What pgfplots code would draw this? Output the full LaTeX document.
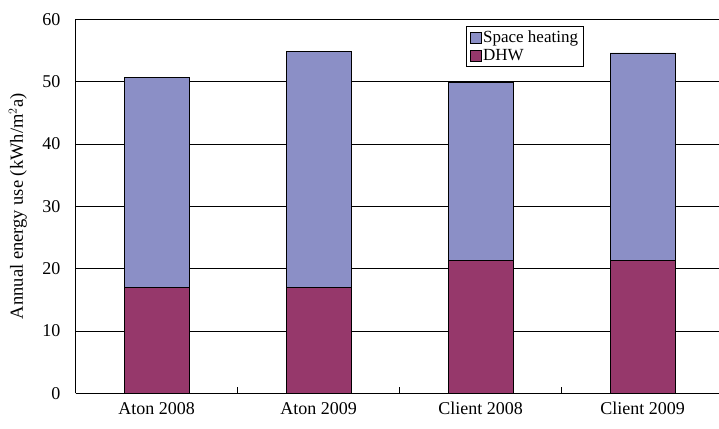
\documentclass[border=0pt]{standalone}
\usepackage{pgfplots}
\pgfplotsset{compat=1.18}
\usepackage{fontspec}
\setmainfont{Liberation Serif}
\definecolor{sh}{RGB}{139,143,198}
\definecolor{dhw}{RGB}{150,56,107}
\begin{document}
\begin{tikzpicture}
\begin{axis}[
  at={(75.5pt,34.7pt)}, anchor=south west,
  scale only axis, width=643.5pt, height=374pt,
  xmin=-0.5, xmax=3.472, ymin=0, ymax=60,
  ybar stacked, bar width=65pt,
  axis x line*=bottom, axis y line*=left,
  axis line style={black, line width=0.9pt},
  ymajorgrids, grid style={black, line width=0.7pt},
  ytick={0,10,20,30,40,50,60},
  ytick style={draw=none},
  tick align=inside,
  xtick={0.5,1.5,2.5}, xticklabels={},
  xtick style={black, line width=0.8pt},
  major tick length=6pt,
  extra x ticks={0,1,2,3},
  extra x tick labels={Aton 2008, Aton 2009, Client 2008, Client 2009},
  extra x tick style={major tick length=0pt, xticklabel style={font=\fontsize{18}{21}\selectfont, inner sep=0pt, anchor=north, yshift=-9pt}},
  /pgf/number format/assume math mode=true,
  yticklabel style={font=\fontsize{18}{21}\selectfont, inner sep=0pt, anchor=east, xshift=-15pt},
  ylabel={Annual energy use (kWh/m$^{2}$a)},
  every axis y label/.style={at={(axis description cs:-0.0754,0.5)}, rotate=90, anchor=south, inner sep=0pt, font=\fontsize{18.5}{21}\selectfont},
  legend style={at={(axis description cs:0.6075,0.982)}, anchor=north west, draw=black, line width=0.6pt, font=\fontsize{17}{20}\selectfont, inner xsep=3pt, inner ysep=2.5pt, row sep=1pt, cells={anchor=west}},
  reverse legend,
  legend image code/.code={\draw[#1, draw=black, line width=0.4pt] (0pt,-5.5pt) rectangle (11pt,5.5pt);},
]
\addplot[fill=dhw, draw=black, line width=0.6pt] coordinates {(0,17.0) (1,17.0) (2,21.3) (3,21.3)};
\addplot[fill=sh, draw=black, line width=0.6pt] coordinates {(0,33.7) (1,37.8) (2,28.6) (3,33.3)};
\legend{DHW, Space heating}
\end{axis}
\pgfresetboundingbox
\useasboundingbox (0,0) rectangle (719pt,428pt);
\end{tikzpicture}
\end{document}
